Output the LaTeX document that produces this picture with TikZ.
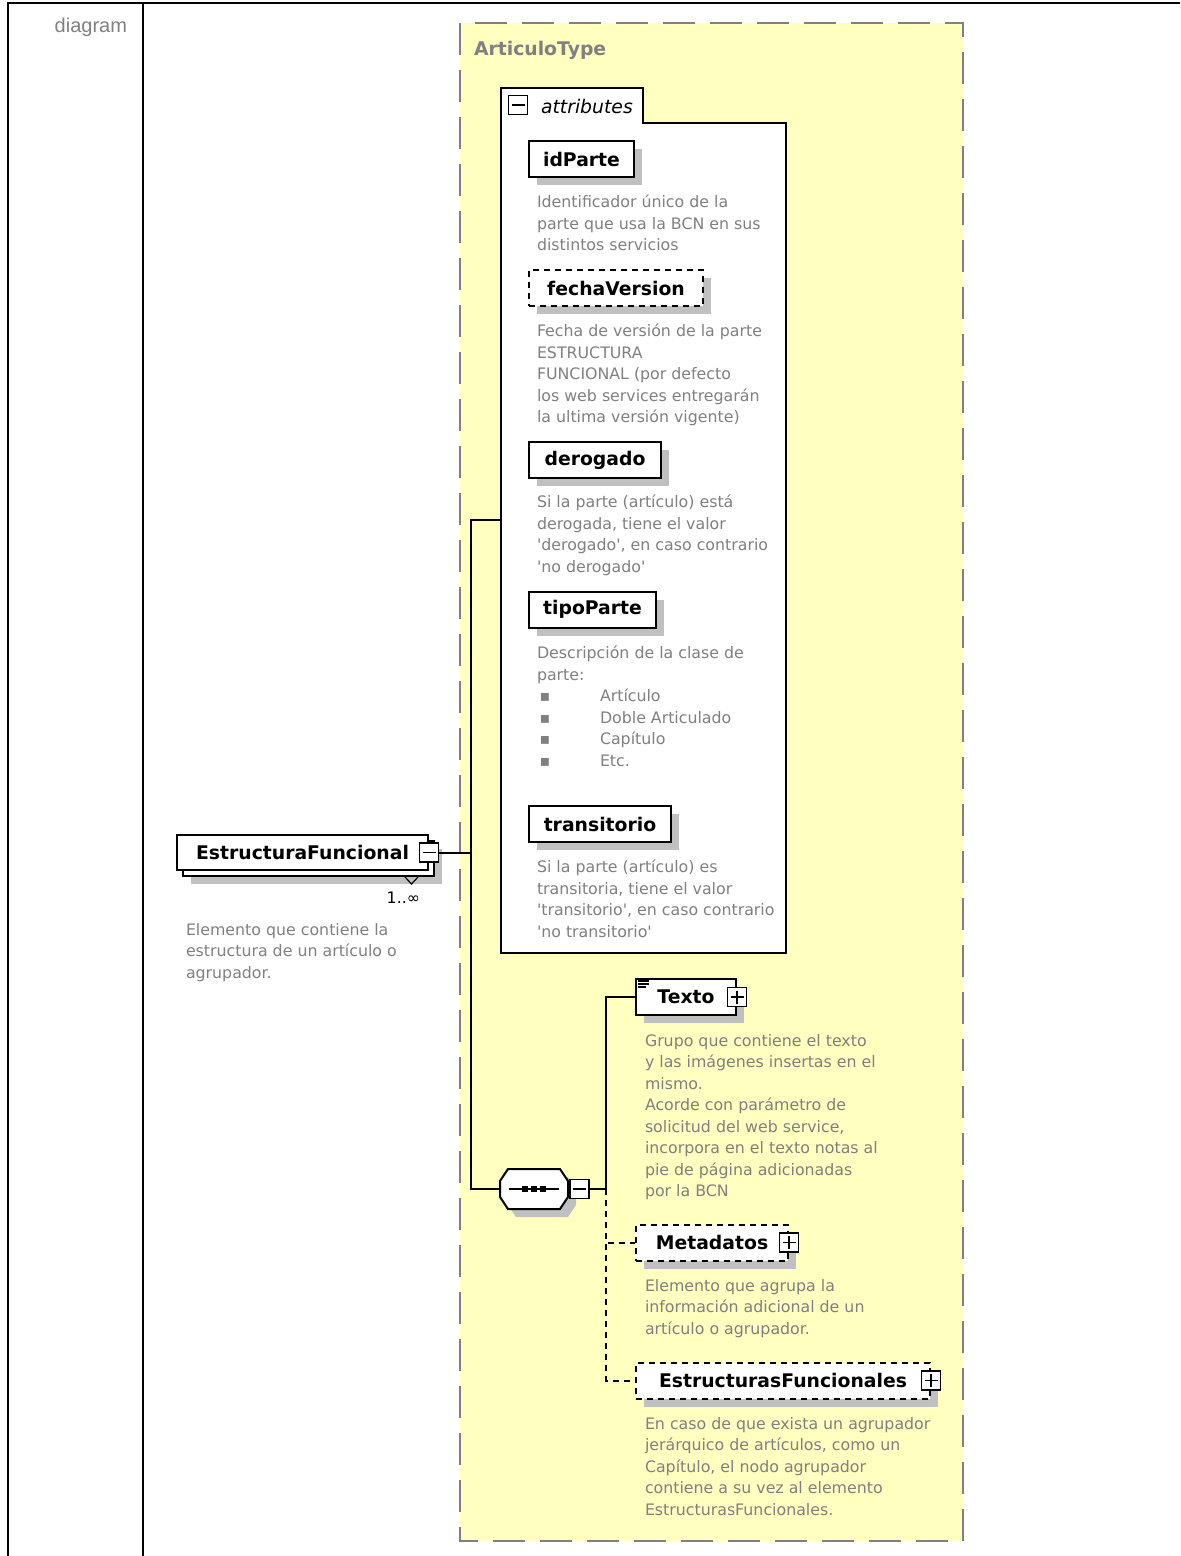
\documentclass[tikz,border=0pt]{standalone}
\usepackage{fontspec}
\setmainfont{DejaVu Sans}
\newfontfamily\diafont{DejaVu Sans}
\newfontfamily\cellfont{Liberation Sans}
\usetikzlibrary{shadows}

\definecolor{descgray}{RGB}{128,128,128}
\definecolor{typeyellow}{RGB}{255,255,192}
\definecolor{shadowgray}{RGB}{192,192,192}

\tikzset{
	elem/.style={draw,fill=white,line width=1pt,minimum height=18pt,inner sep=0pt,
		font=\diafont\fontsize{9.4}{11}\selectfont\bfseries},
	shade/.style={general shadow={fill=shadowgray,shadow xshift=4pt,shadow yshift=-4pt}},
	optional/.style={dash pattern=on 3pt off 2.5pt},
	desc/.style={anchor=north west,inner sep=0pt,align=left,text=descgray,
		font=\diafont\fontsize{7.9}{10.75}\selectfont},
	toggle/.style={draw,fill=white,line width=0.8pt,minimum size=9.5pt,inner sep=0pt},
	minus/.style={toggle,path picture={
		\draw[line width=0.9pt] ([xshift=1.5pt]path picture bounding box.west) -- ([xshift=-1.5pt]path picture bounding box.east);}},
	plus/.style={toggle,path picture={
		\draw[line width=0.9pt] ([xshift=1.5pt]path picture bounding box.west) -- ([xshift=-1.5pt]path picture bounding box.east);
		\draw[line width=0.9pt] ([yshift=-1.5pt]path picture bounding box.north) -- ([yshift=1.5pt]path picture bounding box.south);}},
}

\begin{document}
\begin{tikzpicture}[x=0.5pt,y=-0.5pt,line width=1pt]
	\useasboundingbox (0,0) rectangle (1180,1556);

	% table cell
	\draw[line width=1.2pt] (8,1556) -- (8,3) -- (1180,3);
	\draw[line width=1.2pt] (143,3) -- (143,1556);
	\node[anchor=east,inner sep=0pt,text=descgray,font=\cellfont\fontsize{10}{12}\selectfont] (celltitle) at (128,27) {diagram};

	% complex type
	\draw[draw=descgray,fill=typeyellow,dash pattern=on 16pt off 7.5pt] (460,23) rectangle (963,1541);
	\node[anchor=west,inner sep=0pt,text=descgray,font=\diafont\fontsize{9.4}{11}\selectfont\bfseries] (typename) at (473,50) {ArticuloType};

	% attributes
	\draw[fill=white] (501,953) -- (501,88) -- (643,88) -- (643,123) -- (786,123) -- (786,953) -- cycle;
	\coordinate (attrw) at (501,520);
	\node[minus] (attrmin) at (518,105) {};
	\node[anchor=west,inner sep=0pt,font=\diafont\fontsize{9.4}{11}\selectfont\itshape] (attrlabel) at (540,106) {attributes};

	\node[elem,shade,minimum width=52.5pt] (idparte) at (581.5,159) {idParte};
	\node[desc] at (536,194) {Identificador único de la\\parte que usa la BCN en sus\\distintos servicios};

	\node[elem,shade,optional,minimum width=87pt] (fechaversion) at (616,288) {fechaVersion};
	\node[desc] at (536,323) {Fecha de versión de la parte\\ESTRUCTURA\\FUNCIONAL (por defecto\\los web services entregarán\\la ultima versión vigente)};

	\node[elem,shade,minimum width=66pt] (derogado) at (595,460) {derogado};
	\node[desc] at (536,494) {Si la parte (artículo) está\\derogada, tiene el valor\\'derogado', en caso contrario\\'no derogado'};

	\node[elem,shade,minimum width=63.5pt] (tipoparte) at (592.5,609.5) {tipoParte};
	\node[desc] at (536,645) {Descripción de la clase de\\parte:\\
		\makebox[31.5pt][l]{\,▪}Artículo\\
		\makebox[31.5pt][l]{\,▪}Doble Articulado\\
		\makebox[31.5pt][l]{\,▪}Capítulo\\
		\makebox[31.5pt][l]{\,▪}Etc.};

	\node[elem,shade,minimum width=71pt] (transitorio) at (600,824) {transitorio};
	\node[desc] at (536,859) {Si la parte (artículo) es\\transitoria, tiene el valor\\'transitorio', en caso contrario\\'no transitorio'};

	% element
	\node[elem,minimum width=125.5pt,minimum height=17.5pt,
		general shadow={fill=shadowgray,shadow xshift=7pt,shadow yshift=-7pt},
		general shadow={draw=black,fill=white,shadow xshift=3pt,shadow yshift=-3pt}] (estructura) at (302.5,852.5) {EstructuraFuncional};
	\node[minus] (estrmin) at (estructura.east) {};
	\draw[line width=0.6pt] (405,877) -- (411.5,884) -- (418,877);
	\node[anchor=east,inner sep=0pt,font=\diafont\fontsize{7.9}{10}\selectfont] (card) at (421,898) {1..∞};
	\node[desc] at (185,922) {Elemento que contiene la\\estructura de un artículo o\\agrupador.};

	% sequence
	\fill[shadowgray,shift={(8,8)}] (500,1181) -- (508,1169) -- (560,1169) -- (568,1181) -- (568,1197) -- (560,1209) -- (508,1209) -- (500,1197) -- cycle;
	\draw[fill=white] (500,1181) -- (508,1169) -- (560,1169) -- (568,1181) -- (568,1197) -- (560,1209) -- (508,1209) -- (500,1197) -- cycle;
	\node[minimum width=34pt,minimum height=20pt,inner sep=0pt] (seq) at (534,1189) {};
	\draw ([xshift=5pt]seq.west) -- ([xshift=-5pt]seq.east);
	\foreach \dx in {-9,0,9}
		\fill ([xshift=\dx*0.5pt]seq.center) +(-3,-3) rectangle +(3,3);
	\node[minus,anchor=west] (seqmin) at (seq.east) {};

	% children
	\node[elem,shade,minimum width=50pt] (texto) at (686,997) {Texto};
	\node[plus] (textoplus) at (texto.east) {};
	\foreach \dy/\len in {3/11,6/11,9/8}
		\draw[line width=0.6pt] ([shift={(3,\dy)}]texto.north west) -- ++(\len,0);
	\node[desc] at (644,1033) {Grupo que contiene el texto\\y las imágenes insertas en el\\mismo.\\Acorde con parámetro de\\solicitud del web service,\\incorpora en el texto notas al\\pie de página adicionadas\\por la BCN};

	\node[elem,shade,optional,minimum width=76pt] (metadatos) at (712,1242.5) {Metadatos};
	\node[plus] (metaplus) at (metadatos.east) {};
	\node[desc] at (644,1278) {Elemento que agrupa la\\información adicional de un\\artículo o agrupador.};

	\node[elem,shade,optional,minimum width=147pt] (estructuras) at (783,1380.5) {EstructurasFuncionales};
	\node[plus] (estrsplus) at (estructuras.east) {};
	\node[desc] at (644,1416) {En caso de que exista un agrupador\\jerárquico de artículos, como un\\Capítulo, el nodo agrupador\\contiene a su vez al elemento\\EstructurasFuncionales.};

	% connectors
	\coordinate (trunktop) at (471,520);
	\coordinate (trunkbot) at (471,1189);
	\draw (attrw) -- (trunktop) -- (trunkbot) -- (seq.west);
	\draw (estrmin.east) -- (trunktop |- estrmin.east);
	\coordinate (branch) at (606,1189);
	\draw (seqmin.east) -- (branch) |- (texto.west);
	\draw[optional] (branch) |- (metadatos.west);
	\draw[optional] (branch) |- (estructuras.west);
\end{tikzpicture}
\end{document}
